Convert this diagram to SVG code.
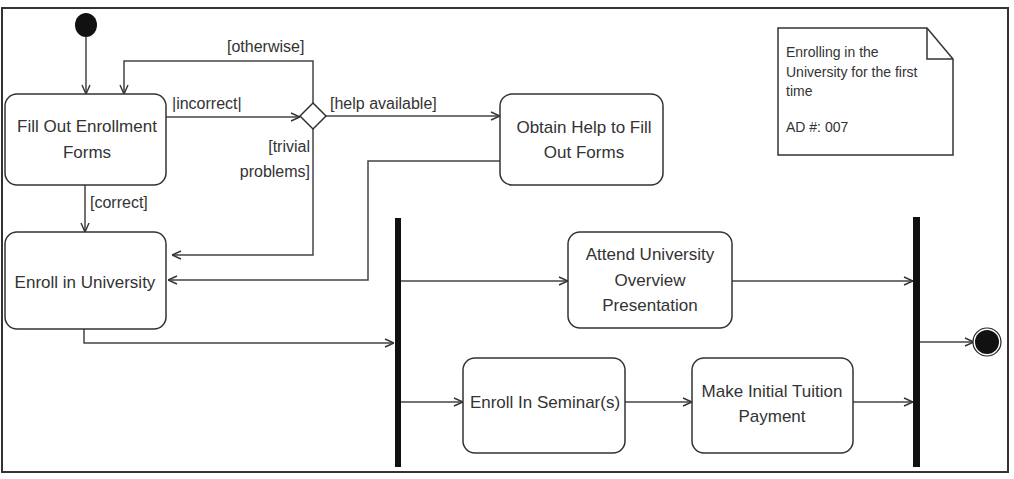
<svg xmlns="http://www.w3.org/2000/svg" width="1014" height="479" viewBox="0 0 1014 479">
<style>
.box{fill:#fff;stroke:#333;stroke-width:1.5}
.t{font-family:"Liberation Sans",Arial,sans-serif;font-size:17px;fill:#333;text-anchor:middle}
.lb{font-family:"Liberation Sans",Arial,sans-serif;font-size:16px;fill:#333}
.nt{font-family:"Liberation Sans",Arial,sans-serif;font-size:14px;fill:#333}
.c{fill:none;stroke:#444;stroke-width:1.5;marker-end:url(#a)}
.bar{fill:#111}
</style>
<defs>
<marker id="a" viewBox="0 0 10 10" refX="10" refY="5" markerWidth="10" markerHeight="10" markerUnits="userSpaceOnUse" orient="auto">
<path d="M1,1 L10,5 L1,9" fill="none" stroke="#333" stroke-width="1.4"/>
</marker>
</defs>
<rect x="2" y="8" width="1006" height="464" fill="#fff" stroke="#333" stroke-width="2"/>

<g id="connectors">
<path class="c" d="M86,37 V94"/>
<path class="c" d="M166,117 H300"/>
<path class="c" d="M313,103 V61 H124 V94"/>
<path class="c" d="M326,116 H500"/>
<path class="c" d="M313,129 V255 H172"/>
<path class="c" d="M500,161 H368 V280 H168"/>
<path class="c" d="M85,185 V232"/>
<path class="c" d="M84,329 V343 H394"/>
<path class="c" d="M401,281 H568"/>
<path class="c" d="M401,402 H463"/>
<path class="c" d="M625,402 H692"/>
<path class="c" d="M732,281 H913"/>
<path class="c" d="M853,402 H913"/>
<path class="c" d="M920,342 H974"/>
<text class="lb" x="227" y="52">[otherwise]</text>
<text class="lb" x="172" y="109">|incorrect|</text>
<text class="lb" x="330" y="109">[help  available]</text>
<text class="lb" x="310" y="152" text-anchor="end">[trivial</text>
<text class="lb" x="310" y="177" text-anchor="end">problems]</text>
<text class="lb" x="90" y="208">[correct]</text>
</g>

<g id="initial"><ellipse cx="86" cy="25" rx="11" ry="12" fill="#111"/></g>

<g id="fill-out">
<rect class="box" x="5" y="94" width="161" height="91" rx="12"/>
<text class="t" x="87" y="132">Fill Out Enrollment</text>
<text class="t" x="87" y="158">Forms</text>
</g>

<g id="decision"><path d="M313,103 L326,116 L313,129 L300,116 Z" fill="#fff" stroke="#333" stroke-width="1.5"/></g>

<g id="obtain-help">
<rect class="box" x="500" y="94" width="163" height="91" rx="12"/>
<text class="t" x="584" y="133">Obtain Help to Fill</text>
<text class="t" x="584" y="158">Out Forms</text>
</g>

<g id="enroll-univ">
<rect class="box" x="5" y="232" width="161" height="97" rx="12"/>
<text class="t" x="85" y="288">Enroll in University</text>
</g>

<g id="fork"><rect class="bar" x="395" y="218" width="6" height="249"/></g>
<g id="join"><rect class="bar" x="913" y="217" width="7" height="250"/></g>

<g id="attend">
<rect class="box" x="568" y="232" width="164" height="96" rx="12"/>
<text class="t" x="650" y="260">Attend University</text>
<text class="t" x="650" y="286">Overview</text>
<text class="t" x="650" y="311">Presentation</text>
</g>

<g id="seminar">
<rect class="box" x="463" y="358" width="162" height="95" rx="12"/>
<text class="t" x="545" y="408">Enroll In Seminar(s)</text>
</g>

<g id="tuition">
<rect class="box" x="692" y="358" width="161" height="95" rx="12"/>
<text class="t" x="772" y="397">Make Initial Tuition</text>
<text class="t" x="772" y="422">Payment</text>
</g>

<g id="final">
<circle cx="987" cy="342" r="14" fill="#fff" stroke="#222" stroke-width="1.2"/>
<circle cx="987" cy="342" r="12" fill="#111"/>
</g>

<g id="note">
<path d="M778,28 H927 L953,59 V155 H778 Z" fill="#fff" stroke="#333" stroke-width="1.5"/>
<path d="M927,28 V59 H953" fill="none" stroke="#333" stroke-width="1.5"/>
<text class="nt" x="786" y="57">Enrolling in the</text>
<text class="nt" x="786" y="77">University for the first</text>
<text class="nt" x="786" y="96">time</text>
<text class="nt" x="786" y="132">AD #: 007</text>
</g>
</svg>
